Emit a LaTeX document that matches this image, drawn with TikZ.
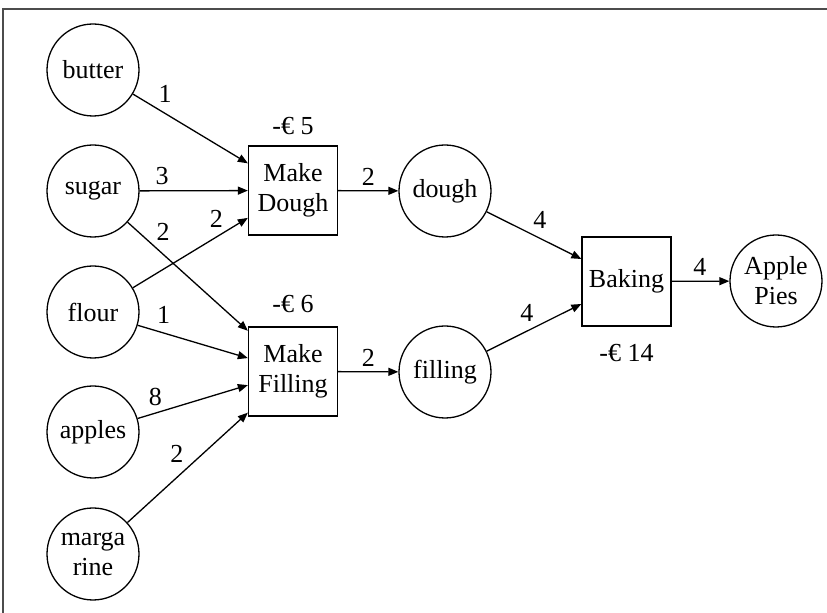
\documentclass[tikz,border=0pt]{standalone}
\usepackage{fontspec}
\setmainfont{Liberation Serif}
\usetikzlibrary{arrows.meta}

\tikzset{
  ingredient/.style={draw, circle, line width=0.65pt, minimum size=46pt, inner sep=0pt, align=center},
  process/.style={draw, rectangle, line width=0.65pt, minimum size=44.5pt, inner sep=0pt, align=center},
  flow/.style={draw, line width=0.65pt, -{Triangle[length=5pt,width=4pt]}},
  qty/.style={inner sep=0pt},
  cost/.style={inner sep=0pt},
  framecol/.style={draw=black!70, line width=0.8pt}
}

\begin{document}
\begin{tikzpicture}[x=0.5pt, y=-0.5pt, font=\fontsize{13pt}{15pt}\selectfont]
  \useasboundingbox (0,0) rectangle (827,613);

  % page frame (top and left edges)
  \draw[framecol] (3,613) -- (3,9) -- (827,9);

  % raw ingredients
  \node[ingredient] (butter) at (93,70)  {butter};
  \node[ingredient] (sugar)  at (93,191) {sugar};
  \node[ingredient] (flour)  at (93,312) {flour};
  \node[ingredient] (apples) at (93,432) {apples};
  \node[ingredient] (marg)   at (93,554) {marga\\rine};

  % processing steps
  \node[process] (dough) at (293,190.5) {Make\\Dough};
  \node[process] (fill)  at (293,371.5) {Make\\Filling};
  \node[process] (bake)  at (626.5,281.5) {Baking};

  % intermediate and final products
  \node[ingredient] (doughp) at (445,191) {dough};
  \node[ingredient] (fillp)  at (445,372) {filling};
  \node[ingredient] (pies)   at (776,281) {Apple\\Pies};

  % step costs
  \node[cost] (doughcost) at ([yshift=9.5pt]dough.north) {-€ 5};
  \node[cost] (fillcost)  at ([yshift=11pt]fill.north)   {-€ 6};
  \node[cost] (bakecost)  at ([yshift=-13pt]bake.south)  {-€ 14};

  % material flows with quantities
  \draw[flow] (butter) -- node[qty, pos=0.28,  yshift=10pt]  {1} (dough);
  \draw[flow] (sugar)  -- node[qty, pos=0.207, yshift=7.2pt] {3} (dough);
  \draw[flow] (sugar)  -- node[qty, pos=0.296, yshift=11.1pt]{2} (fill);
  \draw[flow] (flour)  -- node[qty, pos=0.726, yshift=9.2pt] {2} (dough);
  \draw[flow] (flour)  -- node[qty, pos=0.235, yshift=9pt]   {1} (fill);
  \draw[flow] (apples) -- node[qty, pos=0.161, yshift=8.3pt] {8} (fill);
  \draw[flow] (marg)   -- node[qty, pos=0.41,  yshift=12pt]  {2} (fill);

  \draw[flow] (dough)  -- node[qty, pos=0.5,   yshift=7pt]   {2} (doughp);
  \draw[flow] (fill)   -- node[qty, pos=0.5,   yshift=6.7pt] {2} (fillp);

  \draw[flow] (doughp) -- node[qty, pos=0.562, yshift=9.2pt] {4} (bake);
  \draw[flow] (fillp)  -- node[qty, pos=0.423, yshift=9pt]   {4} (bake);

  \draw[flow] (bake)   -- node[qty, pos=0.49,  yshift=7.3pt] {4} (pies);
\end{tikzpicture}
\end{document}
